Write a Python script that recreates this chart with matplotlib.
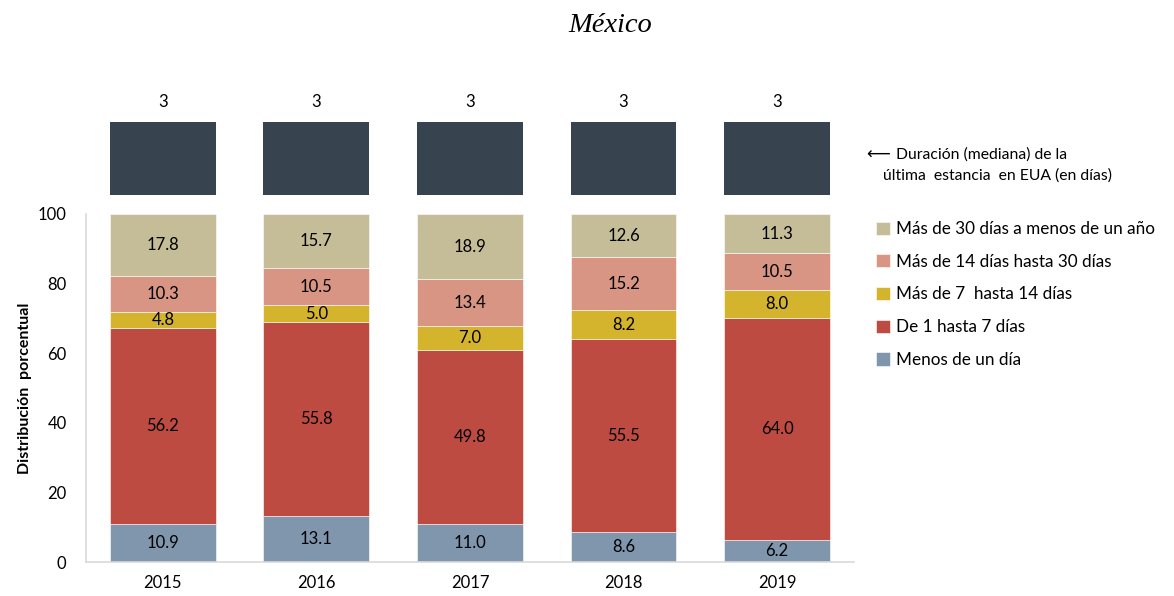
import matplotlib
matplotlib.use('Agg')
import matplotlib.pyplot as plt
import numpy as np

plt.rcParams['font.family'] = ['Lato', 'DejaVu Sans']

# data
years = ['2015', '2016', '2017', '2018', '2019']
medians = [3, 3, 3, 3, 3]
categories = ['Menos de un día', 'De 1 hasta 7 días', 'Más de 7  hasta 14 días',
              'Más de 14 días hasta 30 días', 'Más de 30 días a menos de un año']
menos_un_dia = [10.9, 13.1, 11.0, 8.6, 6.2]
de_1_a_7 = [56.2, 55.8, 49.8, 55.5, 64.0]
de_7_a_14 = [4.8, 5.0, 7.0, 8.2, 8.0]
de_14_a_30 = [10.3, 10.5, 13.4, 15.2, 10.5]
mas_de_30 = [17.8, 15.7, 18.9, 12.6, 11.3]
series = [menos_un_dia, de_1_a_7, de_7_a_14, de_14_a_30, mas_de_30]
colors = ['#7F96AD', '#BE4B41', '#D4B42C', '#D99584', '#C4BD97']

fig = plt.figure(figsize=(11.74, 5.96), dpi=100)
ax = fig.add_axes([0.0733, 0.057, 0.654, 0.584])
ax_top = fig.add_axes([0.0733, 0.6728, 0.654, 0.1225])

x = np.arange(len(years))
width = 0.69
bottom = np.zeros(len(years))
handles = []
for vals, color, label in zip(series, colors, categories):
    bars = ax.bar(x, vals, width, bottom=bottom, color=color,
                  edgecolor='white', linewidth=0.4, label=label)
    handles.append(bars)
    for xi, b, v in zip(x, bottom, vals):
        ax.text(xi, b + v / 2, f'{v:.1f}', ha='center', va='center',
                fontsize=12, color='black')
    bottom += np.array(vals)

ax.set_xlim(-0.5, len(years) - 0.5)
ax.set_ylim(0, 100)
ax.set_yticks(range(0, 101, 20))
ax.set_xticks(x)
ax.set_xticklabels(years)
ax.tick_params(length=0, labelsize=12, colors='black')
ax.tick_params(axis='x', pad=9)
ax.tick_params(axis='y', pad=14)
for side in ['top', 'right']:
    ax.spines[side].set_visible(False)
for side in ['left', 'bottom']:
    ax.spines[side].set_color('#D9D9D9')
    ax.spines[side].set_linewidth(1.2)
ax.set_ylabel('Distribución  porcentual', fontsize=11.5, fontweight='bold',
              labelpad=4)

# median boxes on top
ax_top.bar(x, [1] * len(years), width, color='#37444F')
for xi, m in zip(x, medians):
    ax_top.text(xi, 1.28, str(m), ha='center', va='center', fontsize=12)
ax_top.set_xlim(-0.5, len(years) - 0.5)
ax_top.set_ylim(0, 1)
ax_top.axis('off')

# legend (reverse order)
leg = fig.legend(handles[::-1], categories[::-1], loc='upper left',
                 bbox_to_anchor=(0.733, 0.655), frameon=False,
                 fontsize=12.3, handlelength=0.8, handleheight=0.8,
                 handletextpad=0.35, labelspacing=0.98)

fig.text(0.738, 0.741, '⟵', fontsize=12, va='center', ha='left',
         family=['DejaVu Sans'])
fig.text(0.763, 0.741, 'Duración (mediana) de la', fontsize=11.3, va='center')
fig.text(0.752, 0.706, 'última  estancia  en EUA (en días)', fontsize=11.3,
         va='center')

fig.text(0.52, 0.958, 'México', fontsize=20.5, style='italic',
         family=['Liberation Serif'], ha='center', va='center')

fig.savefig('out.png', dpi=100)
